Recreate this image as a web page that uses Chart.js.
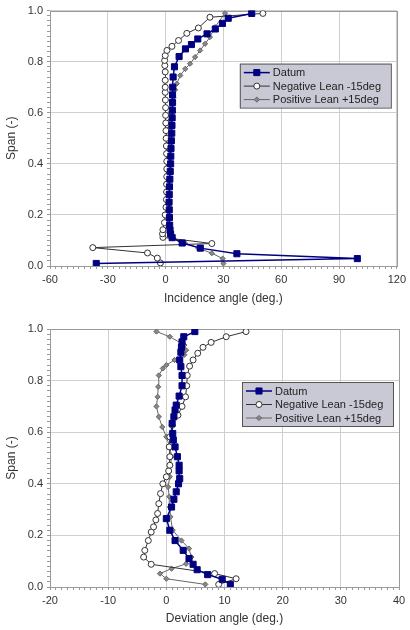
<!DOCTYPE html>
<html>
<head>
<meta charset="utf-8">
<script src="https://cdn.jsdelivr.net/npm/chart.js@4.4.1/dist/chart.umd.min.js"></script>
<style>
  body { margin: 0; background: #fff; }
  canvas { display: block; }
</style>
</head>
<body>
<canvas id="incChart" width="410" height="310"></canvas>
<canvas id="devChart" width="410" height="320"></canvas>
<script>
// series names
const seriesNames = ['Datum', 'Negative Lean -15deg', 'Positive Lean +15deg'];

// incidence angle (top chart)
const incSpanDatum = [0.010, 0.029, 0.048, 0.070, 0.090, 0.111, 0.125, 0.14, 0.16, 0.19, 0.22, 0.25, 0.28, 0.31, 0.34, 0.37, 0.40, 0.43, 0.46, 0.49, 0.52, 0.55, 0.58, 0.61, 0.64, 0.67, 0.70, 0.74, 0.78, 0.82, 0.85, 0.867, 0.889, 0.909, 0.928, 0.950, 0.970, 0.989];
const incDatum = [-36, 99.5, 37, 18, 8.6, 3.4, 2.6, 2.3, 2.1, 2.0, 1.9, 1.8, 1.9, 2.0, 2.2, 2.4, 2.6, 2.7, 2.8, 3.0, 3.2, 3.3, 3.4, 3.5, 3.6, 3.6, 3.7, 3.9, 4.6, 7.0, 10.3, 13.4, 16.7, 21.5, 25.8, 29.5, 32.5, 44.7];

const incSpanNeg = [0.012, 0.031, 0.051, 0.072, 0.088, 0.112, 0.126, 0.142, 0.17, 0.20, 0.23, 0.26, 0.29, 0.32, 0.35, 0.38, 0.41, 0.44, 0.47, 0.50, 0.53, 0.56, 0.59, 0.62, 0.65, 0.68, 0.70, 0.727, 0.76, 0.785, 0.805, 0.824, 0.844, 0.86, 0.883, 0.911, 0.932, 0.974, 0.989];
const incNeg = [-2.7, -4.3, -9.4, -37.8, 24, -1.4, -1.6, -1.4, -0.6, -0.2, 0.2, 0.4, 0.5, 0.5, 0.6, 0.6, 0.6, 0.5, 0.4, 0.3, 0.2, 0.1, 0.0, 0.0, -0.1, -0.2, -0.2, -0.2, -0.2, -0.4, -0.5, -0.2, 0.7, 3.3, 6.7, 11, 17, 23, 50.5];

const incSpanPos = [0.010, 0.029, 0.05, 0.07, 0.09, 0.11, 0.13, 0.15, 0.18, 0.21, 0.24, 0.27, 0.30, 0.33, 0.36, 0.39, 0.42, 0.45, 0.48, 0.51, 0.54, 0.57, 0.60, 0.62, 0.64, 0.66, 0.69, 0.714, 0.746, 0.772, 0.792, 0.818, 0.844, 0.87, 0.896, 0.935, 0.99];
const incPos = [30, 29.6, 24, 17, 10, 3.8, 2.0, 1.6, 1.5, 1.6, 1.5, 1.5, 1.4, 1.5, 1.6, 1.6, 1.7, 1.8, 1.9, 2.0, 2.1, 2.3, 2.5, 3.0, 3.6, 4.0, 4.9, 5.8, 7.6, 10.2, 12.7, 15.3, 17.9, 20.5, 23, 25.6, 30.8];

// deviation angle (bottom chart)
const devSpanDatum = [0.010, 0.030, 0.048, 0.067, 0.088, 0.11, 0.142, 0.18, 0.22, 0.265, 0.31, 0.34, 0.369, 0.40, 0.42, 0.45, 0.472, 0.505, 0.543, 0.57, 0.595, 0.634, 0.66, 0.686, 0.705, 0.74, 0.78, 0.82, 0.854, 0.88, 0.91, 0.93, 0.95, 0.97, 0.99];
const devDatum = [11.0, 9.6, 7.1, 5.3, 4.6, 3.9, 2.9, 1.5, 0.6, 0.0, 0.9, 1.3, 1.7, 2.1, 2.3, 2.2, 2.2, 1.9, 1.5, 1.2, 1.1, 1.0, 1.3, 1.5, 1.7, 2.2, 2.7, 2.7, 2.5, 2.3, 2.5, 2.6, 2.7, 3.0, 4.9];

const devSpanNeg = [0.010, 0.032, 0.052, 0.088, 0.116, 0.142, 0.18, 0.213, 0.233, 0.26, 0.285, 0.323, 0.362, 0.40, 0.427, 0.45, 0.472, 0.505, 0.543, 0.582, 0.627, 0.666, 0.70, 0.737, 0.78, 0.82, 0.856, 0.88, 0.906, 0.929, 0.948, 0.97, 0.99];
const devNeg = [9.0, 12.0, 8.3, -2.6, -3.9, -3.7, -3.1, -2.6, -2.2, -1.8, -1.5, -1.3, -1.0, -0.6, 0.0, 0.4, 0.6, 0.6, 0.5, 0.6, 1.0, 2.0, 2.7, 3.3, 3.5, 3.6, 4.0, 4.6, 5.4, 6.3, 7.7, 10.3, 13.7];

const devSpanPos = [0.010, 0.032, 0.052, 0.071, 0.09, 0.116, 0.149, 0.18, 0.22, 0.272, 0.31, 0.35, 0.388, 0.427, 0.472, 0.505, 0.543, 0.582, 0.62, 0.66, 0.70, 0.737, 0.776, 0.82, 0.847, 0.86, 0.88, 0.90, 0.918, 0.938, 0.97, 0.99];
const devPos = [6.7, 0.0, -1.1, 0.9, 3.4, 4.3, 3.9, 2.6, 1.1, 0.7, 0.6, 0.5, 0.3, 0.6, 0.7, 0.9, 0.6, 0.0, -0.7, -1.3, -1.7, -1.5, -1.4, -1.3, -0.6, 0.0, 1.4, 3.1, 3.4, 3.1, 0.6, -1.7];

Chart.defaults.font.family = "'Liberation Sans', Arial, sans-serif";
Chart.defaults.font.size = 11;
Chart.defaults.color = '#333';

function pts(xs, ys) {
  return xs.map((v, i) => ({ x: v, y: ys[i] }));
}

const styles = [
  { borderColor: '#000080', backgroundColor: '#000080', pointStyle: 'rect', pointRadius: 4.3, borderWidth: 1.5, pointBorderWidth: 1 },
  { borderColor: '#333', backgroundColor: '#fff', pointStyle: 'circle', pointRadius: 3, borderWidth: 1, pointBorderWidth: 1 },
  { borderColor: '#666', backgroundColor: '#888', pointStyle: 'rectRot', pointRadius: 2.6, borderWidth: 1, pointBorderWidth: 1 }
];

// plot frame
const framePlugin = {
  id: 'frame',
  beforeDatasetsDraw(chart) {
    const a = chart.chartArea, c = chart.ctx;
    c.save();
    c.strokeStyle = '#9a9a9a';
    c.lineWidth = 1;
    c.strokeRect(Math.round(a.left) + 0.5, Math.round(a.top) + 0.5, Math.round(a.right - a.left), Math.round(a.bottom - a.top));
    c.restore();
  }
};

// legend box inside plot
const boxLegend = {
  id: 'boxLegend',
  afterDatasetsDraw(chart) {
    const a = chart.chartArea, c = chart.ctx;
    const w = 151, h = 44;
    const left = a.right - 157, top = a.top + 53;
    c.save();
    c.fillStyle = '#c9c9d6';
    c.fillRect(left, top, w, h);
    c.strokeStyle = '#555';
    c.lineWidth = 1;
    c.strokeRect(left + 0.5, top + 0.5, w, h);
    chart.data.datasets.forEach((ds, i) => {
      const y = top + 9 + i * 13.5;
      c.strokeStyle = ds.borderColor;
      c.lineWidth = ds.borderWidth;
      c.beginPath();
      c.moveTo(left + 4, y);
      c.lineTo(left + 30, y);
      c.stroke();
      c.fillStyle = ds.backgroundColor;
      c.strokeStyle = ds.borderColor;
      c.lineWidth = 1;
      Chart.helpers.drawPoint(c, { pointStyle: ds.pointStyle, radius: ds.pointRadius, rotation: 0, borderWidth: 1 }, left + 17, y);
      c.fillStyle = '#222';
      c.font = "11px 'Liberation Sans', Arial, sans-serif";
      c.textBaseline = 'middle';
      c.fillText(ds.label, left + 33, y + 0.5);
    });
    c.restore();
  }
};

function makeChart(id, xTitle, xMin, xMax, xMajor, xMinor, series, padTop, xHeight) {
  return new Chart(document.getElementById(id), {
    type: 'scatter',
    data: {
      datasets: series.map((s, i) => Object.assign({
        label: seriesNames[i],
        data: s,
        showLine: true
      }, styles[i]))
    },
    options: {
      responsive: false,
      animation: false,
      layout: { padding: { left: 0, right: 11, top: padTop, bottom: 0 } },
      plugins: { legend: { display: false }, tooltip: { enabled: false } },
      scales: {
        x: {
          type: 'linear', min: xMin, max: xMax,
          afterFit: s => { s.height = xHeight; },
          ticks: {
            stepSize: xMinor, autoSkip: false, maxRotation: 0, padding: 4,
            callback: v => Math.abs(v / xMajor - Math.round(v / xMajor)) < 1e-6 ? String(Math.round(v)) : ''
          },
          grid: {
            color: ctx => (ctx.tick && Math.abs(ctx.tick.value / xMajor - Math.round(ctx.tick.value / xMajor)) < 1e-6) ? '#cfcfcf' : 'rgba(0,0,0,0)',
            tickColor: '#999', tickLength: 3
          },
          border: { display: false },
          title: { display: true, text: xTitle, font: { size: 12 }, color: '#333' }
        },
        y: {
          type: 'linear', min: 0, max: 1,
          afterFit: s => { s.width = 50; },
          ticks: {
            stepSize: 0.02, autoSkip: false, padding: 4,
            callback: v => Math.abs(v * 5 - Math.round(v * 5)) < 1e-6 ? v.toFixed(1) : ''
          },
          grid: {
            color: ctx => (ctx.tick && Math.abs(ctx.tick.value * 5 - Math.round(ctx.tick.value * 5)) < 1e-6) ? '#cfcfcf' : 'rgba(0,0,0,0)',
            tickColor: '#999', tickLength: 3
          },
          border: { display: false },
          title: { display: true, text: 'Span (-)', font: { size: 12 }, color: '#333' }
        }
      }
    },
    plugins: [framePlugin, boxLegend]
  });
}

makeChart('incChart', 'Incidence angle (deg.)', -60, 120, 30, 3,
  [pts(incDatum, incSpanDatum), pts(incNeg, incSpanNeg), pts(incPos, incSpanPos)], 10, 44);

makeChart('devChart', 'Deviation angle (deg.)', -20, 40, 10, 1,
  [pts(devDatum, devSpanDatum), pts(devNeg, devSpanNeg), pts(devPos, devSpanPos)], 19, 43);
</script>
</body>
</html>
